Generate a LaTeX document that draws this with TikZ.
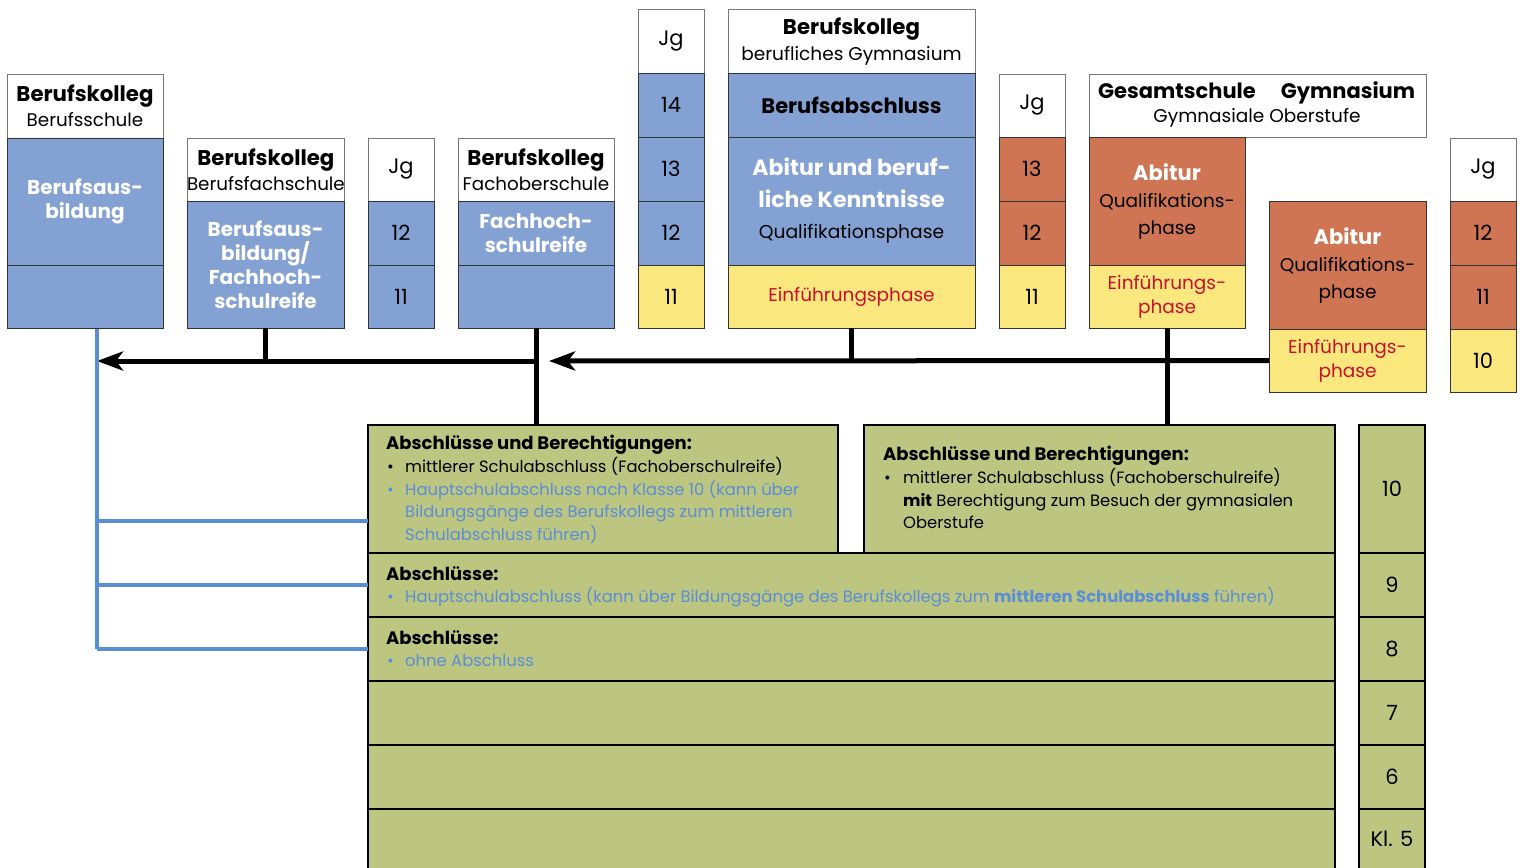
\documentclass[tikz,border=0pt]{standalone}
\usepackage{fontspec}
\setmainfont{Poppins}
\usetikzlibrary{arrows.meta}
\definecolor{cblue}{HTML}{84A1D4}
\definecolor{corange}{HTML}{CF7553}
\definecolor{cyellow}{HTML}{FAE77E}
\definecolor{cgreen}{HTML}{BDC680}
\definecolor{cred}{HTML}{C8102E}
\definecolor{ctext}{HTML}{5B8ED6}
\definecolor{cline}{HTML}{5A8ED3}
\definecolor{cframe}{HTML}{333333}
\definecolor{chead}{HTML}{777777}
\newcommand\fz[2]{\fontsize{#1pt}{#2pt}\selectfont}
% \cell{name}{x}{y}{width}{height}{style}{text}
\newcommand\cell[7]{\node[box,#6,minimum width=#4pt,minimum height=#5pt] (#1) at (#2,#3) {#7};}
% \tline{name}{x}{baseline y}{text}
\newcommand\tline[4]{\node[tl] (#1) at (#2,#3) {#4};}
% white bold heading text inside coloured cells
\newcommand\wb[1]{{\color{white}\bfseries #1}}
% bold first line of a header cell
\newcommand\hb[1]{{\fz{21.3}{25}\bfseries #1}}
% bold title line in the lower boxes
\newcommand\tbf{\fz{18}{22}\bfseries}
\begin{document}
\begin{tikzpicture}[x=1pt,y=-1pt,
  box/.style={draw=cframe,line width=1pt,anchor=north west,inner sep=0pt,outer sep=0pt,align=center},
  hd/.style={fill=white,draw=chead,font=\fz{18.3}{25}},
  bl/.style={fill=cblue,font=\fz{20}{24}},
  og/.style={fill=corange,font=\fz{18.5}{27}},
  ye/.style={fill=cyellow,text=cred,font=\fz{18.5}{24}},
  jg/.style={font=\fz{21}{24}},
  gr/.style={fill=cgreen,draw=black,line width=1.3pt,font=\fz{21}{24}},
  tl/.style={anchor=base west,inner sep=0pt,font=\fz{16.4}{22}},
  conn/.style={line width=5pt,draw=black},
  tip/.style={-{Stealth[length=26pt,width=19pt,inset=7pt]}},
  bline/.style={line width=3.5pt,draw=cline}]
\useasboundingbox (0,0) rectangle (1522,867);

% Berufskolleg: Berufsschule
\cell{bsH}{7}{74}{156}{64}{hd}{\hb{Berufskolleg}\\Berufsschule}
\cell{bsA}{7}{138}{156}{127}{bl}{\wb{Berufsaus-}\\\wb{bildung}}
\cell{bsB}{7}{265}{156}{63}{bl}{}

% Berufskolleg: Berufsfachschule
\cell{bfH}{187}{138}{157}{63}{hd}{\hb{Berufskolleg}\\Berufsfachschule}
\cell{bfA}{187}{201}{157}{127}{bl}{\wb{Berufsaus-}\\\wb{bildung/}\\\wb{Fachhoch-}\\\wb{schulreife}}

% Jahrgaenge
\cell{jaH}{368}{138}{66}{63}{hd,jg}{Jg}
\cell{ja12}{368}{201}{66}{64}{bl,jg}{12}
\cell{ja11}{368}{265}{66}{63}{bl,jg}{11}

% Berufskolleg: Fachoberschule
\cell{foH}{458}{138}{156}{63}{hd}{\hb{Berufskolleg}\\Fachoberschule}
\cell{foA}{458}{201}{156}{64}{bl}{\wb{Fachhoch-}\\\wb{schulreife}}
\cell{foB}{458}{265}{156}{63}{bl}{}

% Jahrgaenge
\cell{jbH}{638}{10}{66}{63}{hd,jg}{Jg}
\cell{jb14}{638}{73}{66}{64}{bl,jg}{14}
\cell{jb13}{638}{137}{66}{64}{bl,jg}{13}
\cell{jb12}{638}{201}{66}{64}{bl,jg}{12}
\cell{jb11}{638}{265}{66}{63}{ye,jg,text=black}{11}

% Berufskolleg: berufliches Gymnasium
\cell{bgH}{728}{10}{247}{63}{hd,font=\fz{18.5}{26}}{\hb{Berufskolleg}\\berufliches Gymnasium}
\cell{bgA}{728}{73}{247}{64}{bl,font=\fz{21}{24}}{\bfseries Berufsabschluss}
\cell{bgB}{728}{137}{247}{128}{bl,font=\fz{18.7}{31.5}}{{\fz{22}{31.5}\wb{Abitur und beruf-}}\\{\fz{22}{31.5}\wb{liche Kenntnisse}}\\Qualifikationsphase}
\cell{bgC}{728}{265}{247}{63}{ye}{Einführungsphase}

% Jahrgaenge
\cell{jcH}{999}{74}{66}{63}{hd,jg}{Jg}
\cell{jc13}{999}{137}{66}{64}{og,jg}{13}
\cell{jc12}{999}{201}{66}{64}{og,jg}{12}
\cell{jc11}{999}{265}{66}{63}{ye,jg,text=black}{11}

% Gesamtschule / Gymnasium: gymnasiale Oberstufe
\cell{goH}{1089}{74}{337}{63}{hd}{}
\node[font=\fz{21}{25}\bfseries,anchor=base] (goGe) at (1177,98) {Gesamtschule};
\node[font=\fz{21}{25}\bfseries,anchor=base] (goGy) at (1348,98) {Gymnasium};
\node[font=\fz{18.5}{25},anchor=base] (goOb) at (1257,122) {Gymnasiale Oberstufe};
\cell{gsA}{1089}{137}{156}{128}{og}{{\fz{21}{27}\wb{Abitur}}\\Qualifikations-\\phase}
\cell{gsB}{1089}{265}{156}{63}{ye}{Einführungs-\\phase}
\cell{gyA}{1269}{201}{157}{128}{og}{{\fz{21}{27}\wb{Abitur}}\\Qualifikations-\\phase}
\cell{gyB}{1269}{329}{157}{63}{ye}{Einführungs-\\phase}

% Jahrgaenge
\cell{jdH}{1450}{138}{66}{63}{hd,jg}{Jg}
\cell{jd12}{1450}{201}{66}{64}{og,jg}{12}
\cell{jd11}{1450}{265}{66}{64}{og,jg}{11}
\cell{jd10}{1450}{329}{66}{63}{ye,jg,text=black}{10}

% Sekundarstufe I
\cell{gA}{368}{425}{470}{128}{gr}{}
\cell{gB}{864}{425}{471}{128}{gr}{}
\cell{r9}{368}{553}{967}{64}{gr}{}
\cell{r8}{368}{617}{967}{64}{gr}{}
\cell{r7}{368}{681}{967}{64}{gr}{}
\cell{r6}{368}{745}{967}{64}{gr}{}
\cell{r5}{368}{809}{967}{90}{gr}{}
\cell{k10}{1359}{425}{66}{128}{gr}{10}
\cell{k9}{1359}{553}{66}{64}{gr}{9}
\cell{k8}{1359}{617}{66}{64}{gr}{8}
\cell{k7}{1359}{681}{66}{64}{gr}{7}
\cell{k6}{1359}{745}{66}{64}{gr}{6}
\node[box,gr,minimum width=66pt,minimum height=90pt] (k5) at (1359,809) {};
\node[font=\fz{21}{24}] (k5t) at (1392,839) {Kl. 5};

% Abschluesse Klasse 10 (links)
\tline{aT}{386}{449}{\tbf Abschlüsse und Berechtigungen:}
\tline{aB1}{387}{472}{•}
\tline{a1}{405}{472}{mittlerer Schulabschluss (Fachoberschulreife)}
\tline{aB2}{387}{495}{\color{ctext}•}
\tline{a2}{405}{495}{\color{ctext}Hauptschulabschluss nach Klasse 10 (kann über}
\tline{a3}{405}{517}{\color{ctext}Bildungsgänge des Berufskollegs zum mittleren}
\tline{a4}{405}{540}{\color{ctext}Schulabschluss führen)}

% Abschluesse Klasse 10 (rechts)
\tline{bT}{883}{460}{\tbf Abschlüsse und Berechtigungen:}
\tline{bB1}{884}{483}{•}
\tline{b1}{903}{483}{mittlerer Schulabschluss (Fachoberschulreife)}
\tline{b2}{903}{506}{\bfseries mit\mdseries{} Berechtigung zum Besuch der gymnasialen}
\tline{b3}{903}{528}{Oberstufe}

% Abschluesse Klasse 9 und 8
\tline{cT}{386}{580}{\tbf Abschlüsse:}
\tline{cB}{387}{602}{\color{ctext}•}
\tline{c1}{405}{602}{\color{ctext}Hauptschulabschluss (kann über Bildungsgänge des Berufskollegs zum \textbf{mittleren Schulabschluss} führen)}
\tline{dT}{386}{644}{\tbf Abschlüsse:}
\tline{dB}{387}{666}{\color{ctext}•}
\tline{d1}{405}{666}{\color{ctext}ohne Abschluss}

% Uebergaenge
\coordinate (jL) at (97,361);
\coordinate (jR) at (549,361);
\draw[conn] (bfA.south) -- (bfA.south |- jL);
\draw[conn] (foB.south) -- (foB.south |- gA.north);
\draw[conn,tip] (foB.south |- jL) -- (jL);
\draw[conn] (bgC.south) -- (bgC.south |- jR);
\draw[conn] (gsB.south) -- (gsB.south |- gB.north);
\draw[conn,tip] (gyB.west) -- (jR);

% Wechsel in die Berufsschule
\coordinate (bT) at (97,328.5);
\coordinate (b10) at (97,521);
\draw[bline] (bT) -- (bT |- r8.west);
\draw[bline] (b10) -- (b10 -| gA.west);
\draw[bline] (bT |- r9.west) -- (r9.west);
\draw[bline] (bT |- r8.west) -- (r8.west);
\end{tikzpicture}
\end{document}
